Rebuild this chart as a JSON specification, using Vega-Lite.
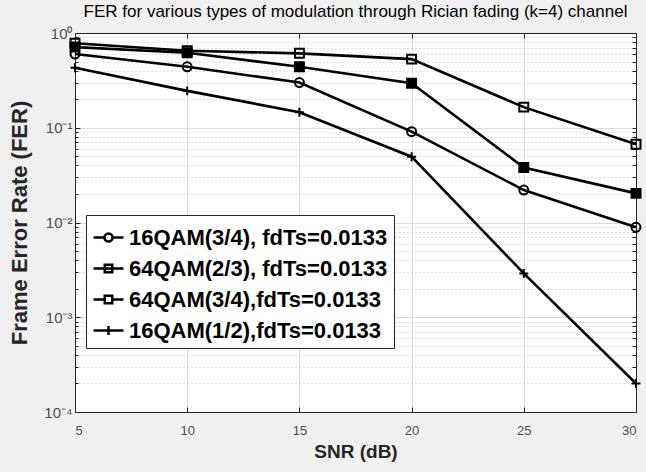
{
  "$schema": "https://vega.github.io/schema/vega-lite/v6.json",
  "width": 561,
  "height": 379,
  "autosize": {"type": "none"},
  "padding": {"left": 75, "top": 33, "right": 10, "bottom": 60},
  "background": "#f0f0f0",
  "title": {
    "text": "FER for various types of modulation through Rician fading (k=4) channel",
    "fontSize": 17,
    "font": "Liberation Sans",
    "fontWeight": "normal",
    "color": "#000000",
    "anchor": "middle",
    "offset": 5
  },
  "config": {
    "view": {"fill": "white", "stroke": null},
    "font": "Liberation Sans"
  },
  "data": {
    "values": [
      {"series": "16QAM(3/4), fdTs=0.0133", "snr": 5, "fer": 0.60},
      {"series": "16QAM(3/4), fdTs=0.0133", "snr": 10, "fer": 0.44},
      {"series": "16QAM(3/4), fdTs=0.0133", "snr": 15, "fer": 0.30},
      {"series": "16QAM(3/4), fdTs=0.0133", "snr": 20, "fer": 0.091},
      {"series": "16QAM(3/4), fdTs=0.0133", "snr": 25, "fer": 0.022},
      {"series": "16QAM(3/4), fdTs=0.0133", "snr": 30, "fer": 0.0089},
      {"series": "64QAM(2/3), fdTs=0.0133", "snr": 5, "fer": 0.71},
      {"series": "64QAM(2/3), fdTs=0.0133", "snr": 10, "fer": 0.62},
      {"series": "64QAM(2/3), fdTs=0.0133", "snr": 15, "fer": 0.44},
      {"series": "64QAM(2/3), fdTs=0.0133", "snr": 20, "fer": 0.295},
      {"series": "64QAM(2/3), fdTs=0.0133", "snr": 25, "fer": 0.038},
      {"series": "64QAM(2/3), fdTs=0.0133", "snr": 30, "fer": 0.0203},
      {"series": "64QAM(3/4),fdTs=0.0133", "snr": 5, "fer": 0.78},
      {"series": "64QAM(3/4),fdTs=0.0133", "snr": 10, "fer": 0.65},
      {"series": "64QAM(3/4),fdTs=0.0133", "snr": 15, "fer": 0.61},
      {"series": "64QAM(3/4),fdTs=0.0133", "snr": 20, "fer": 0.53},
      {"series": "64QAM(3/4),fdTs=0.0133", "snr": 25, "fer": 0.165},
      {"series": "64QAM(3/4),fdTs=0.0133", "snr": 30, "fer": 0.067},
      {"series": "16QAM(1/2),fdTs=0.0133", "snr": 5, "fer": 0.43},
      {"series": "16QAM(1/2),fdTs=0.0133", "snr": 10, "fer": 0.245},
      {"series": "16QAM(1/2),fdTs=0.0133", "snr": 15, "fer": 0.146},
      {"series": "16QAM(1/2),fdTs=0.0133", "snr": 20, "fer": 0.0495},
      {"series": "16QAM(1/2),fdTs=0.0133", "snr": 25, "fer": 0.0029},
      {"series": "16QAM(1/2),fdTs=0.0133", "snr": 30, "fer": 0.0002}
    ]
  },
  "layer": [
    {
      "mark": {"type": "point", "opacity": 0},
      "encoding": {
        "x": {
          "field": "snr", "type": "quantitative",
          "scale": {"domain": [5, 30], "nice": false, "zero": false},
          "axis": {
            "orient": "bottom",
            "values": [5, 10, 15, 20, 25, 30],
            "grid": true, "gridColor": "#dcdcdc", "gridWidth": 1,
            "domain": true, "domainColor": "#262626", "domainWidth": 1,
            "ticks": true, "tickSize": -5, "tickColor": "#262626",
            "labelPadding": 17, "labelFontSize": 13, "labelColor": "#4d4d4d",
            "title": "SNR (dB)", "titleFontSize": 19, "titleFontWeight": "bold",
            "titleColor": "#262626", "titlePadding": 5
          }
        },
        "y": {
          "field": "fer", "type": "quantitative",
          "scale": {"type": "log", "domain": [0.0001, 1], "nice": false},
          "axis": {
            "orient": "left",
            "values": [0.0002, 0.0003, 0.0004, 0.0005, 0.0006, 0.0007, 0.0008, 0.0009,
                       0.002, 0.003, 0.004, 0.005, 0.006, 0.007, 0.008, 0.009,
                       0.02, 0.03, 0.04, 0.05, 0.06, 0.07, 0.08, 0.09,
                       0.2, 0.3, 0.4, 0.5, 0.6, 0.7, 0.8, 0.9],
            "grid": true, "gridColor": "#bdbdbd", "gridDash": [1, 3], "gridWidth": 1,
            "domain": false, "ticks": true, "tickSize": -3, "tickColor": "#262626",
            "labels": false, "title": null
          }
        }
      }
    },
    {
      "mark": {"type": "point", "opacity": 0},
      "encoding": {
        "x": {
          "field": "snr", "type": "quantitative",
          "axis": {
            "orient": "top", "values": [5, 10, 15, 20, 25, 30],
            "grid": false, "domain": true, "domainColor": "#262626",
            "ticks": true, "tickSize": -5, "tickColor": "#262626",
            "labels": false, "title": null
          }
        },
        "y": {
          "field": "fer", "type": "quantitative",
          "axis": {
            "orient": "right",
            "values": [0.0001, 0.0002, 0.0003, 0.0004, 0.0005, 0.0006, 0.0007, 0.0008, 0.0009,
                       0.001, 0.002, 0.003, 0.004, 0.005, 0.006, 0.007, 0.008, 0.009,
                       0.01, 0.02, 0.03, 0.04, 0.05, 0.06, 0.07, 0.08, 0.09,
                       0.1, 0.2, 0.3, 0.4, 0.5, 0.6, 0.7, 0.8, 0.9, 1],
            "grid": false, "domain": true, "domainColor": "#262626",
            "ticks": true, "tickSize": -4, "tickColor": "#262626",
            "labels": false, "title": null
          }
        }
      }
    },
    {
      "mark": {"type": "line", "stroke": "black", "strokeWidth": 2.6},
      "encoding": {
        "x": {"field": "snr", "type": "quantitative", "axis": null},
        "y": {
          "field": "fer", "type": "quantitative",
          "axis": {
            "orient": "left",
            "values": [0.0001, 0.001, 0.01, 0.1, 1],
            "grid": true, "gridColor": "#dcdcdc", "gridWidth": 1,
            "domain": true, "domainColor": "#262626",
            "ticks": true, "tickSize": -5, "tickColor": "#262626",
            "labelPadding": 8, "labelFontSize": 15, "labelColor": "#4d4d4d",
            "labelExpr": "datum.value >= 1 ? '10⁰' : datum.value >= 0.1 ? '10⁻¹' : datum.value >= 0.01 ? '10⁻²' : datum.value >= 0.001 ? '10⁻³' : '10⁻⁴'",
            "title": "Frame Error Rate (FER)", "titleFontSize": 22, "titleFontWeight": "bold",
            "titleColor": "#262626", "titlePadding": 12
          }
        },
        "detail": {"field": "series"}
      }
    },
    {
      "mark": {"type": "point", "strokeWidth": 2, "opacity": 1},
      "encoding": {
        "x": {"field": "snr", "type": "quantitative", "axis": null},
        "y": {"field": "fer", "type": "quantitative", "axis": null},
        "shape": {
          "field": "series", "type": "nominal",
          "scale": {
            "domain": ["16QAM(3/4), fdTs=0.0133", "64QAM(2/3), fdTs=0.0133", "64QAM(3/4),fdTs=0.0133", "16QAM(1/2),fdTs=0.0133"],
            "range": ["circle", "square", "square", "M-1,0L1,0M0,-1L0,1"]
          },
          "legend": null
        },
        "fill": {
          "field": "series", "type": "nominal",
          "scale": {
            "domain": ["16QAM(3/4), fdTs=0.0133", "64QAM(2/3), fdTs=0.0133", "64QAM(3/4),fdTs=0.0133", "16QAM(1/2),fdTs=0.0133"],
            "range": ["transparent", "black", "transparent", "transparent"]
          },
          "legend": null
        },
        "stroke": {"value": "black"},
        "size": {"value": 80}
      }
    },
    {
      "mark": {"type": "point", "opacity": 0},
      "encoding": {
        "x": {"field": "snr", "type": "quantitative", "axis": null},
        "y": {"field": "fer", "type": "quantitative", "axis": null},
        "shape": {
          "field": "series", "type": "nominal",
          "scale": {
            "domain": ["16QAM(3/4), fdTs=0.0133", "64QAM(2/3), fdTs=0.0133", "64QAM(3/4),fdTs=0.0133", "16QAM(1/2),fdTs=0.0133"],
            "range": [
              "M-1,0L-0.27,0M0.27,0L1,0M-0.27,0A0.27,0.27,0,1,1,0.27,0A0.27,0.27,0,1,1,-0.27,0Z",
              "M-1,0L1,0M-0.25,-0.25L0.25,-0.25L0.25,0.25L-0.25,0.25Z",
              "M-1,0L-0.25,0M0.25,0L1,0M-0.25,-0.25L0.25,-0.25L0.25,0.25L-0.25,0.25Z",
              "M-1,0L1,0M0,-0.3L0,0.3"
            ]
          },
          "legend": {
            "orient": "none", "legendX": 11, "legendY": 182,
            "title": null,
            "symbolSize": 900, "symbolStrokeWidth": 2.5,
            "symbolStrokeColor": "black", "symbolFillColor": "transparent",
            "labelFontSize": 22, "labelFontWeight": "bold", "labelColor": "black",
            "labelLimit": 0, "labelOffset": 4,
            "fillColor": "white", "strokeColor": "#262626",
            "padding": 6, "rowPadding": 3,
            "encode": {
              "symbols": {
                "update": {
                  "opacity": {"value": 1},
                  "stroke": {"value": "black"},
                  "fill": {"signal": "datum.value === '64QAM(2/3), fdTs=0.0133' ? 'black' : 'transparent'"}
                }
              }
            }
          }
        }
      }
    }
  ],
  "resolve": {
    "axis": {"x": "independent", "y": "independent"},
    "scale": {"shape": "independent", "fill": "independent"}
  }
}
